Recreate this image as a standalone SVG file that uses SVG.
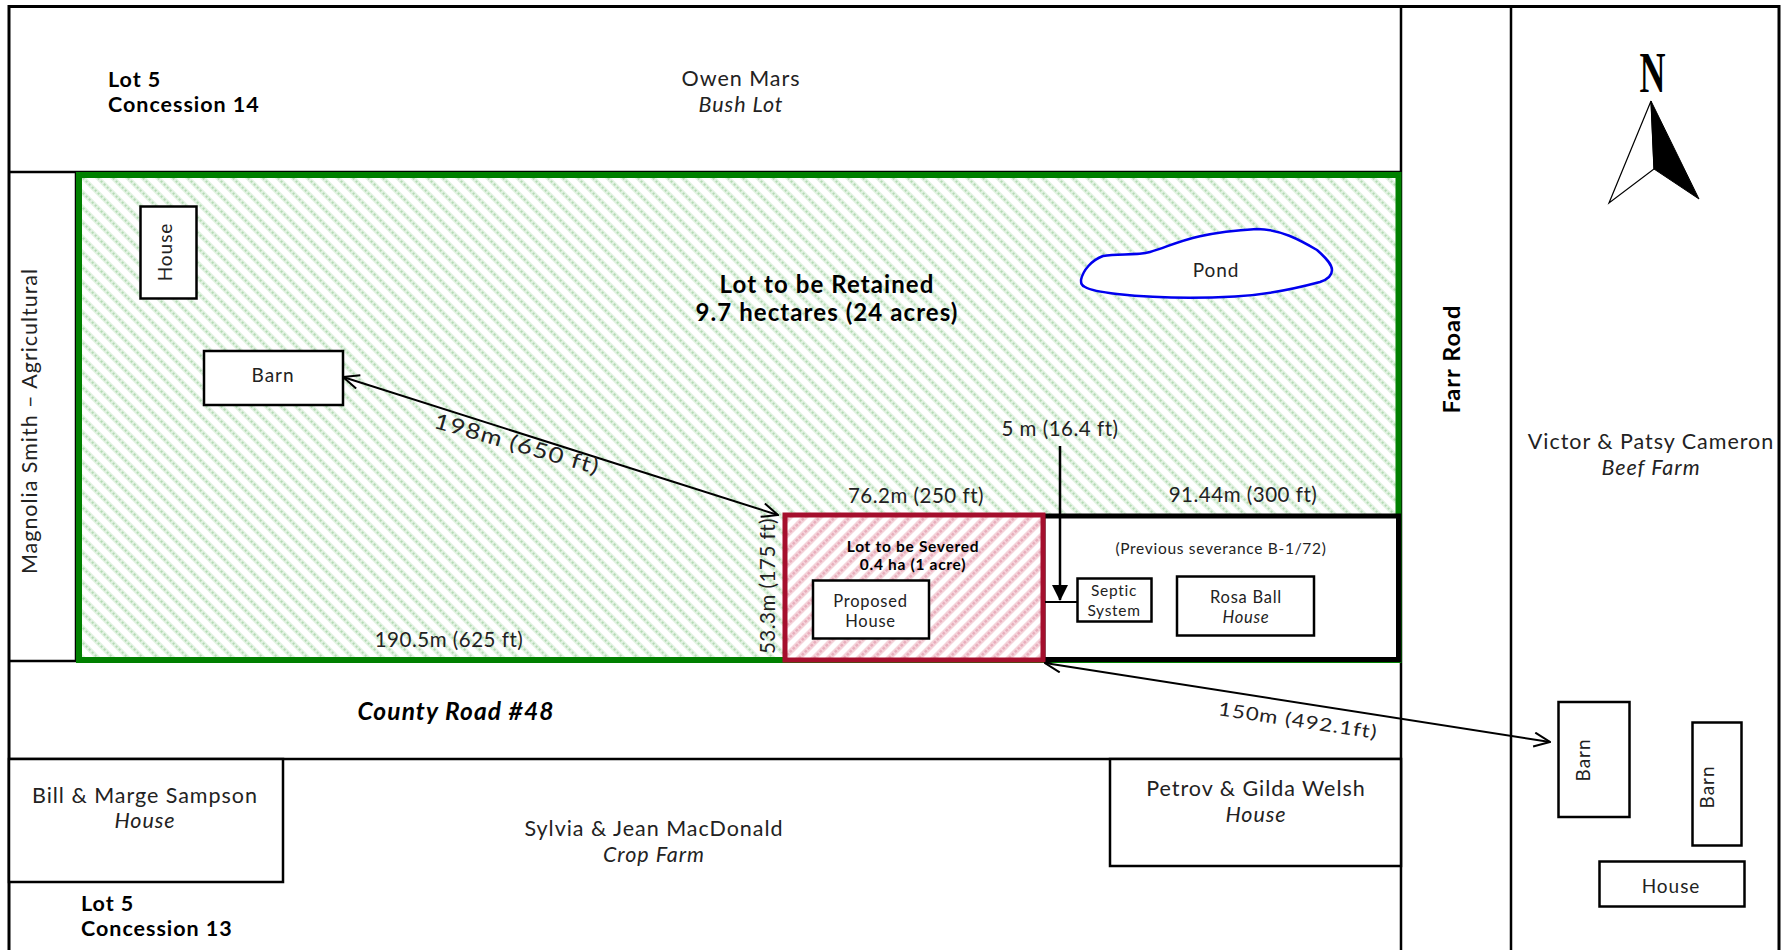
<svg xmlns="http://www.w3.org/2000/svg" width="1782" height="950" viewBox="0 0 1782 950">
<style>
text{font-family:"Lato","Liberation Sans",sans-serif;fill:#222;font-size:21.500px;letter-spacing:.045em;text-anchor:middle}
.b{font-weight:700;fill:#000}
.i{font-style:italic}
.s{font-size:19px;letter-spacing:.05em}
.t{font-size:16.500px}
.u{font-size:15.500px}
.d{font-size:20.500px;letter-spacing:.025em}
.l{fill:none;stroke:#000;stroke-width:2.5}
.box{fill:#fff;stroke:#000;stroke-width:2.5}
.arr{fill:none;stroke:#000;stroke-width:2}
</style>
<defs>
<pattern id="gh" width="15" height="15" patternUnits="userSpaceOnUse" patternTransform="translate(0 5)"><rect width="15" height="15" fill="#fff"/><path d="M-4 -4L19 19M-4 11L4 19M11 -4L19 4" stroke="#e2f2e2" stroke-width="4.500"/><path d="M-4 -4L19 19M-4 11L4 19M11 -4L19 4" stroke="#b4dcb4" stroke-width="2" stroke-dasharray="2 2.200"/></pattern>
<pattern id="rh" width="15" height="15" patternUnits="userSpaceOnUse" patternTransform="translate(2 0)"><rect width="15" height="15" fill="#fff"/><path d="M-4 19L19 -4M-4 4L4 -4M11 19L19 11" stroke="#f5d3da" stroke-width="5.500"/><path d="M-4 19L19 -4M-4 4L4 -4M11 19L19 11" stroke="#e8aebc" stroke-width="2.500" stroke-dasharray="2.500 1.700"/></pattern>
<marker id="o" viewBox="0 0 18 16" refX="17" refY="8" markerWidth="18" markerHeight="16" markerUnits="userSpaceOnUse" orient="auto-start-reverse"><path d="M1 1L17 8L1 15" fill="none" stroke="#000" stroke-width="2"/></marker>
<marker id="f" viewBox="0 0 16 16" refX="15" refY="8" markerWidth="16" markerHeight="16" markerUnits="userSpaceOnUse" orient="auto"><path d="M0 0L16 8L0 16Z" fill="#000"/></marker>
</defs>
<rect width="1782" height="950" fill="#fff"/>
<g id="boundaries">
<path class="l" style="stroke-width:3" d="M9 950V6.500H1779V950"/>
<path class="l" d="M9 172H1401M9 661H76M9 759H1401M1401 6V950M1511 6V950M76 172V661"/>
</g>
<g id="lot-retained"><rect x="79" y="175" width="1319.500" height="485" fill="url(#gh)" stroke="#008000" stroke-width="6"/>
<text class="b" x="827" y="293" style="font-size:24px">Lot to be Retained</text>
<text class="b" x="827" y="321" style="font-size:24px">9.7 hectares (24 acres)</text></g>
<g id="lot-previous"><rect x="1043" y="516" width="355.500" height="143.500" fill="#fff" stroke="#000" stroke-width="5"/>
<text class="u" x="1221" y="554">(Previous severance B-1/72)</text></g>
<g id="lot-severed"><rect x="785" y="515" width="258" height="145" fill="url(#rh)" stroke="#a50f2d" stroke-width="5"/>
<text class="b u" x="913" y="552">Lot to be Severed</text>
<text class="b u" x="913" y="570">0.4 ha (1 acre)</text></g>
<g id="house-nw"><rect class="box" x="140.500" y="206.500" width="56" height="92"/><text class="s" transform="translate(172 252) rotate(-90)">House</text></g>
<g id="barn-w"><rect class="box" x="204" y="351" width="139" height="54"/><text class="s" x="273" y="382">Barn</text></g>
<g id="pond"><path d="M1081 280C1083 270 1092 260 1103 256C1118 253 1135 256 1150 252C1175 245 1190 233 1257 229C1280 229 1300 240 1317 250C1326 258 1332 264 1332 270C1332 276 1326 280 1320 282C1290 290 1265 295 1235 296.500C1190 299 1145 297 1117 294C1100 292 1090 290 1085 287C1081 285 1081 283 1081 280Z" fill="#fff" stroke="#0000ee" stroke-width="2.500"/><text class="s" x="1216" y="277">Pond</text></g>
<g id="proposed-house"><rect class="box" x="813" y="580.500" width="116" height="58"/><text class="t" x="870.500" y="607">Proposed</text><text class="t" x="870.500" y="627">House</text></g>
<g id="septic"><rect class="box" x="1077.500" y="578.500" width="74" height="43"/><text class="u" x="1114" y="596">Septic</text><text class="u" x="1114" y="616">System</text></g>
<g id="rosa-ball"><rect class="box" x="1177" y="576.500" width="137" height="59"/><text class="t" x="1246" y="603">Rosa Ball</text><text class="t i" x="1246" y="623">House</text></g>
<g id="bill-marge"><rect class="box" x="9" y="759" width="274" height="123"/><text x="145" y="803">Bill &amp; Marge Sampson</text><text class="i" x="145" y="828">House</text></g>
<g id="petrov-gilda"><rect class="box" x="1110" y="759" width="291" height="107"/><text x="1256" y="796">Petrov &amp; Gilda Welsh</text><text class="i" x="1256" y="822">House</text></g>
<g id="barn-e1"><rect class="box" x="1558.500" y="702" width="71" height="115"/><text class="s" transform="translate(1590 760) rotate(-90)">Barn</text></g>
<g id="barn-e2"><rect class="box" x="1692.500" y="722.500" width="49" height="123"/><text class="s" transform="translate(1714 787) rotate(-90)">Barn</text></g>
<g id="house-e"><rect class="box" x="1599.500" y="861.500" width="145" height="45"/><text class="s" x="1671" y="893">House</text></g>
<g id="connectors">
<path class="arr" d="M343 377L778 515" marker-start="url(#o)" marker-end="url(#o)"/>
<path class="arr" d="M1045 663L1550 742" marker-start="url(#o)" marker-end="url(#o)"/>
<path class="arr" style="stroke-width:2.500" d="M1060 446V600" marker-end="url(#f)"/>
<path class="arr" d="M1045 602H1077"/>
</g>
<g id="labels">
<text class="b" x="108" y="87" style="text-anchor:start">Lot 5</text>
<text class="b" x="108" y="112" style="text-anchor:start">Concession 14</text>
<text x="741" y="86">Owen Mars</text><text class="i" x="741" y="112">Bush Lot</text>
<text transform="translate(37 421) rotate(-90)">Magnolia Smith – Agricultural</text>
<text class="b" transform="translate(1460 359) rotate(-90)" style="font-size:23.500px">Farr Road</text>
<text x="1651" y="449">Victor &amp; Patsy Cameron</text><text class="i" x="1651" y="475">Beef Farm</text>
<text class="b i" x="456" y="720" style="font-size:24.500px">County Road #48</text>
<text x="654" y="836">Sylvia &amp; Jean MacDonald</text><text class="i" x="654" y="862">Crop Farm</text>
<text class="b" x="81" y="911" style="text-anchor:start">Lot 5</text>
<text class="b" x="81" y="936" style="text-anchor:start">Concession 13</text>
<text transform="translate(515 451) rotate(16) scale(1.2 1)">198m (650 ft)</text>
<text transform="translate(1297 727) rotate(8.500) scale(1.2 1)" style="font-size:18.500px">150m (492.1ft)</text>
<text class="d" x="1060" y="436">5 m (16.4 ft)</text>
<text class="d" x="916" y="503">76.2m (250 ft)</text>
<text class="d" x="1243" y="502">91.44m (300 ft)</text>
<text class="d" x="449" y="647">190.5m (625 ft)</text>
<text class="d" transform="translate(775 586) rotate(-90)">53.3m (175 ft)</text>
</g>
<g id="north">
<text transform="translate(1652.500 92) scale(.62 1)" style="font-family:'Liberation Serif',serif;font-weight:700;font-size:58px;fill:#000;letter-spacing:0">N</text>
<path d="M1651 101L1609 203L1654 169Z" fill="#fff" stroke="#000" stroke-width="1.200"/>
<path d="M1651 101L1699 199L1654 169Z" fill="#000" stroke="#000" stroke-width="1"/>
</g>
</svg>
